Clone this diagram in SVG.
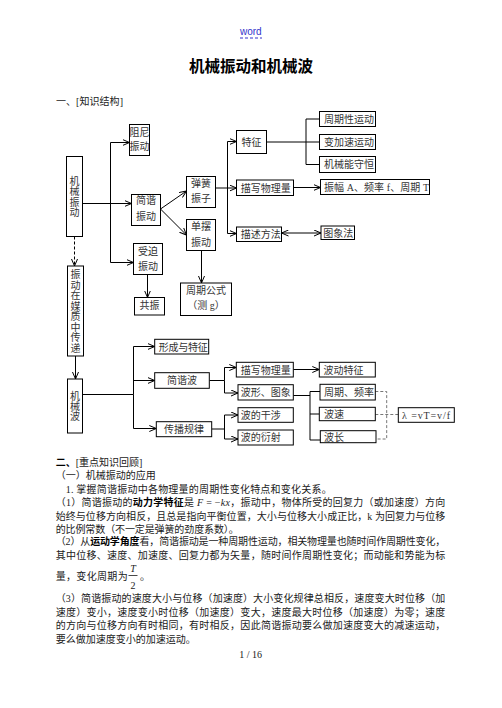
<svg xmlns="http://www.w3.org/2000/svg" width="502" height="708" viewBox="0 0 502 708">
<style>
.t{font-family:'Liberation Serif','Noto Sans CJK SC',serif;font-size:10px;fill:#333}
.m{text-anchor:middle}
.b{fill:#fff;stroke:#000;stroke-width:1}
.c path{fill:none;stroke:#000;stroke-width:1}
.c .ar{marker-end:url(#a)}
.c .dd{stroke-dasharray:3,2}
.c .gd{stroke:#777;stroke-dasharray:3,2}
.p{font-family:'Liberation Serif','Noto Sans CJK SC',serif;font-size:10px;fill:#1a1a1a}
.bd{font-family:'Liberation Sans','Noto Sans CJK SC',sans-serif;font-weight:bold;fill:#000}
.it{font-style:italic;font-family:'Liberation Serif',serif}
</style>
<defs>
<marker id="a" viewBox="0 0 7 7" refX="7" refY="3.5" markerWidth="7" markerHeight="7" markerUnits="userSpaceOnUse" orient="auto-start-reverse">
<path d="M0,0.5 L7,3.5 L0,6.5" fill="none" stroke="#000" stroke-width="1"/>
</marker>
</defs>
<rect width="502" height="708" fill="#fff"/>

<g id="header">
<text x="240" y="34.5" style="font-family:'Liberation Sans',sans-serif;font-size:10px;fill:#3333cc">word</text>
<path d="M240,38 H262" stroke="#3333cc" stroke-width="1" stroke-dasharray="3,2"/>
<text x="251" y="71.5" text-anchor="middle" style="font-family:'Liberation Sans','Noto Sans CJK SC',sans-serif;font-weight:bold;font-size:15.5px;fill:#000">机械振动和机械波</text>
<text x="56" y="104.5" class="p" textLength="67">一、[知识结构]</text>
</g>

<g class="c" id="connectors">
<path class="ar" d="M82.5,203.5 H131.5"/>
<path class="ar" d="M110.5,203.5 V142.5 H129.5"/>
<path class="ar" d="M110.5,203.5 V262.5 H133.5"/>
<path class="ar dd" d="M74.5,236.5 V266"/>
<path class="ar" d="M160.5,209 L186.5,191"/>
<path class="ar" d="M160.5,209 L186.5,235"/>
<path class="ar" d="M215.5,188 H236.5"/>
<path class="ar" d="M227.5,188 V141.5 H236.5"/>
<path class="ar" d="M227.5,188 V233.5 H236.5"/>
<path d="M266.5,142 H319.5"/>
<path d="M319.5,119 H306 V164.5 H319.5"/>
<path class="ar" d="M293.5,187.5 H320.5"/>
<path d="M281.5,233 H321" marker-start="url(#a)" marker-end="url(#a)"/>
<path class="ar" d="M147.5,274.5 V297.5"/>
<path class="ar" d="M201.5,250.5 V283"/>
<path class="ar" d="M75.5,356 V379"/>
<path d="M82.5,394.5 H133.5"/>
<path class="ar" d="M133.5,394.5 V346.5 H154.7"/>
<path class="ar" d="M133.5,380.5 H154.7"/>
<path class="ar" d="M133.5,394.5 V428.5 H156.3"/>
<path d="M209.5,380.5 H224.5"/>
<path class="ar" d="M224.5,380.5 V367.5 H236.3"/>
<path class="ar" d="M224.5,380.5 V393 H238"/>
<path d="M211.7,429 H224.5"/>
<path class="ar" d="M224.5,429 V415 H238"/>
<path class="ar" d="M224.5,429 V439 H238"/>
<path class="ar" d="M293.3,369.5 H319.3"/>
<path d="M293.3,395.5 H310"/>
<path d="M320,391.5 H310 V440 H320.3"/>
<path d="M310,414 H319.3"/>
<path class="gd" d="M375.3,391.5 H386.7 V439 H376"/>
<path class="gd" d="M375.3,414.5 H398.3"/>
</g>

<g id="n-jixiezhendong"><rect class="b" x="66.5" y="156.5" width="16" height="80"/>
<text class="t m"><tspan x="74.5" y="184.8">机</tspan><tspan x="74.5" y="195.3">械</tspan><tspan x="74.5" y="205.8">振</tspan><tspan x="74.5" y="216.3">动</tspan></text></g>
<g id="n-zuni"><rect class="b" x="129.5" y="124.5" width="20" height="31"/>
<text class="t m"><tspan x="139.5" y="135.8">阻尼</tspan><tspan x="139.5" y="149.8">振动</tspan></text></g>
<g id="n-jianxie"><rect class="b" x="131.5" y="194.5" width="29" height="31"/>
<text class="t m"><tspan x="146" y="204.3">简谐</tspan><tspan x="146" y="219.8">振动</tspan></text></g>
<g id="n-shoupo"><rect class="b" x="133.5" y="243.5" width="29" height="31"/>
<text class="t m"><tspan x="148" y="255.3">受迫</tspan><tspan x="148" y="270.3">振动</tspan></text></g>
<g id="n-tanhuang"><rect class="b" x="186.5" y="176.5" width="29" height="31"/>
<text class="t m"><tspan x="201" y="186.8">弹簧</tspan><tspan x="201" y="202.3">振子</tspan></text></g>
<g id="n-danbai"><rect class="b" x="186.5" y="219.5" width="29" height="31"/>
<text class="t m"><tspan x="201" y="230.3">单摆</tspan><tspan x="201" y="245.5">振动</tspan></text></g>
<g id="n-gongzhen"><rect class="b" x="134.5" y="297.5" width="30" height="17.5"/>
<text class="t m" x="149.5" y="309.3">共振</text></g>
<g id="n-zhouqigongshi"><rect class="b" x="180.5" y="283" width="51" height="32.5"/>
<text class="t m"><tspan x="206" y="294.3">周期公式</tspan><tspan x="206" y="309.1">（测 g）</tspan></text></g>
<g id="n-chuandi"><rect class="b" x="67.5" y="266" width="16" height="90"/>
<text class="t m"><tspan x="75.5" y="278.3">振</tspan><tspan x="75.5" y="288.8">动</tspan><tspan x="75.5" y="299.3">在</tspan><tspan x="75.5" y="309.8">媒</tspan><tspan x="75.5" y="320.3">质</tspan><tspan x="75.5" y="330.8">中</tspan><tspan x="75.5" y="341.3">传</tspan><tspan x="75.5" y="351.8">递</tspan></text></g>
<g id="n-jixiebo"><rect class="b" x="67.5" y="379" width="15" height="54"/>
<text class="t m"><tspan x="75" y="400.3">机</tspan><tspan x="75" y="410.3">械</tspan><tspan x="75" y="420.3">波</tspan></text></g>
<g id="n-tezheng"><rect class="b" x="236.5" y="130.5" width="30" height="23"/>
<text class="t m" x="251.5" y="145.8">特征</text></g>
<g id="n-zhouqixing"><rect class="b" x="319.5" y="111.5" width="56" height="15"/>
<text class="t" x="324" y="122.8">周期性运动</text></g>
<g id="n-bianjiasu"><rect class="b" x="319.5" y="134.5" width="56" height="15"/>
<text class="t" x="324" y="145.8">变加速运动</text></g>
<g id="n-jixieneng"><rect class="b" x="319.5" y="156.5" width="56" height="16"/>
<text class="t" x="324" y="168.3">机械能守恒</text></g>
<g id="n-miaoxie1"><rect class="b" x="236.5" y="180" width="57" height="15.5"/>
<text class="t" x="240.7" y="191.8">描写物理量</text></g>
<g id="n-zhenfu"><rect class="b" x="320.5" y="179.5" width="109" height="15"/>
<text class="t" x="324" y="190.8" textLength="105">振幅 A、频率 f、周期 T</text></g>
<g id="n-miaoshu"><rect class="b" x="236.5" y="227" width="45" height="14.5"/>
<text class="t" x="240.7" y="237.8">描述方法</text></g>
<g id="n-tuxiang"><rect class="b" x="321" y="226" width="33.5" height="13.5"/>
<text class="t" x="323.3" y="236.8">图象法</text></g>
<g id="n-xingcheng"><rect class="b" x="154.7" y="339.3" width="54" height="14.7"/>
<text class="t" x="158.7" y="350.5" textLength="49">形成与特征</text></g>
<g id="n-jianxiebo"><rect class="b" x="154.7" y="372.7" width="54.6" height="15.6"/>
<text class="t m" x="182" y="384.3">简谐波</text></g>
<g id="n-chuanbo"><rect class="b" x="156.3" y="421.7" width="55.4" height="15"/>
<text class="t m" x="184" y="432.8">传播规律</text></g>
<g id="n-miaoxie2"><rect class="b" x="236.3" y="362.3" width="57" height="14.7"/>
<text class="t" x="240.7" y="373.5">描写物理量</text></g>
<g id="n-bodong"><rect class="b" x="319.3" y="362.3" width="56" height="14.7"/>
<text class="t" x="323.5" y="373.5">波动特征</text></g>
<g id="n-boxing"><rect class="b" x="238" y="384.7" width="55.3" height="15.3"/>
<text class="t" x="240.7" y="396.2">波形、图象</text></g>
<g id="n-zhouqipinlv"><rect class="b" x="320" y="384.3" width="55.3" height="15.7"/>
<text class="t" x="324" y="395.8">周期、频率</text></g>
<g id="n-bosu"><rect class="b" x="319.3" y="407.3" width="56" height="13.4"/>
<text class="t" x="324" y="417.8">波速</text></g>
<g id="n-bochang"><rect class="b" x="320.3" y="430.7" width="55.7" height="12"/>
<text class="t" x="324" y="440.5">波长</text></g>
<g id="n-lambda"><rect class="b" x="398.3" y="407.7" width="56" height="14.6"/>
<text class="t" x="402" y="418.8" textLength="48">λ =vT=v/f</text></g>
<g id="n-ganshe"><rect class="b" x="238" y="407.7" width="55.3" height="14.6"/>
<text class="t" x="240.7" y="418.8">波的干涉</text></g>
<g id="n-yanshe"><rect class="b" x="238" y="430" width="55.3" height="15"/>
<text class="t" x="240.7" y="441.3">波的衍射</text></g>

<g id="body">
<text class="p" x="55.7" y="466.4"><tspan class="bd">二、</tspan>[重点知识回顾]</text>
<text class="p" x="55.7" y="478.7">（一）机械振动的应用</text>
<text class="p" x="65.7" y="492.7" textLength="266" lengthAdjust="spacing">1. 掌握简谐振动中各物理量的周期性变化特点和变化关系。</text>
<text class="p" x="55.7" y="506.4" textLength="389.6" lengthAdjust="spacing">（1）简谐振动的<tspan class="bd">动力学特征</tspan>是 <tspan class="it">F</tspan> = −<tspan class="it">kx</tspan>，振动中，物体所受的回复力（或加速度）方向</text>
<text class="p" x="55.7" y="519.7" textLength="389.6" lengthAdjust="spacing">始终与位移方向相反，且总是指向平衡位置，大小与位移大小成正比，k 为回复力与位移</text>
<text class="p" x="55.7" y="532.7" textLength="183" lengthAdjust="spacing">的比例常数（不一定是弹簧的劲度系数）。</text>
<text class="p" x="55.7" y="545.4" textLength="389.6" lengthAdjust="spacing">（2）从<tspan class="bd">运动学角度</tspan>看，简谐振动是一种周期性运动，相关物理量也随时间作周期性变化，</text>
<text class="p" x="55.7" y="558.7" textLength="389.6" lengthAdjust="spacing">其中位移、速度、加速度、回复力都为矢量，随时间作周期性变化；而动能和势能为标</text>
<text class="p" x="55.7" y="580.4" textLength="72" lengthAdjust="spacing">量，变化周期为</text>
<text class="p it" x="133" y="572" text-anchor="middle">T</text>
<path d="M128.5,575.5 H137.5" stroke="#1a1a1a" stroke-width="0.8"/>
<text class="p" x="133" y="588.5" text-anchor="middle">2</text>
<text class="p" x="140" y="580.4">。</text>
<text class="p" x="55.7" y="602" textLength="389.6" lengthAdjust="spacing">（3）简谐振动的速度大小与位移（加速度）大小变化规律总相反，速度变大时位移（加</text>
<text class="p" x="55.7" y="616" textLength="389.6" lengthAdjust="spacing">速度）变小，速度变小时位移（加速度）变大，速度最大时位移（加速度）为零；速度</text>
<text class="p" x="55.7" y="629.4" textLength="389.6" lengthAdjust="spacing">的方向与位移方向有时相同，有时相反，因此简谐振动要么做加速度变大的减速运动，</text>
<text class="p" x="55.7" y="642.7">要么做加速度变小的加速运动。</text>
<text class="p" x="250.7" y="658" text-anchor="middle">1 / 16</text>
</g>
</svg>
